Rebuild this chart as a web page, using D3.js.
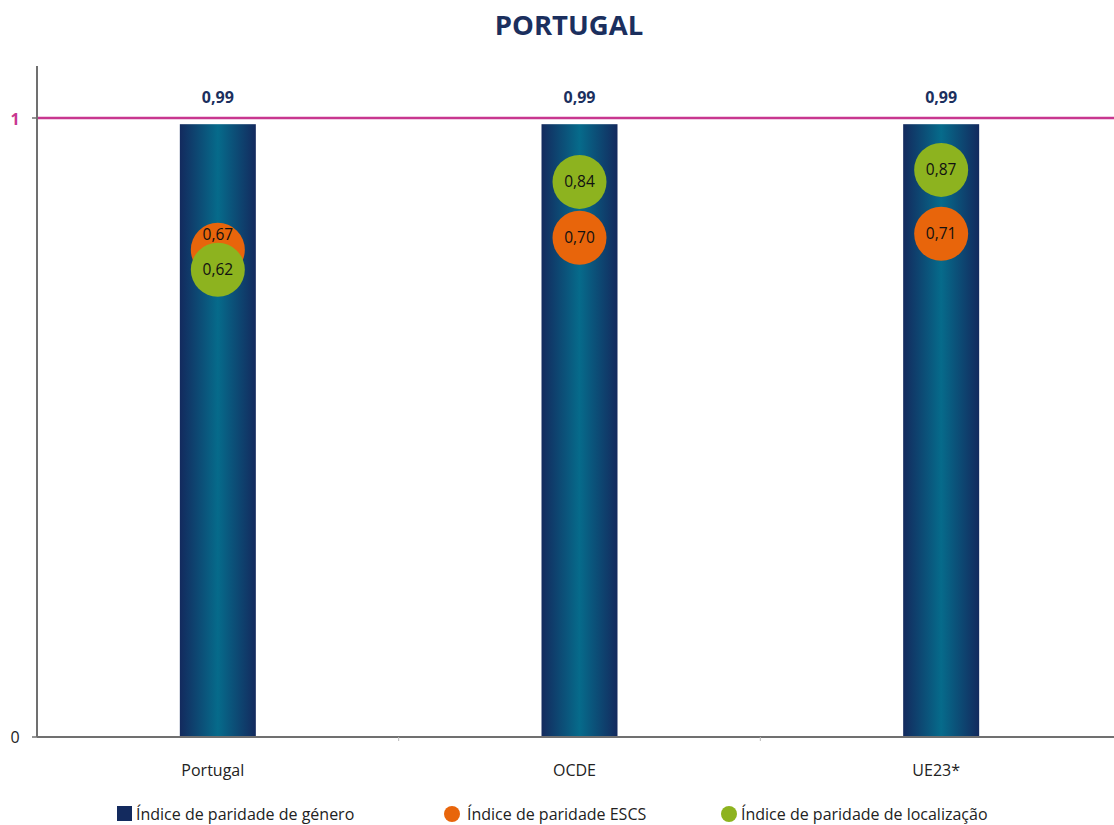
<!DOCTYPE html>
<html><head><meta charset="utf-8">
<script src="https://cdn.jsdelivr.net/npm/d3@7"></script>
<style>body{margin:0;background:#fff}svg{display:block}text{font-family:"Open Sans",Lato,sans-serif}</style>
</head><body><svg id="c" width="1114" height="825"></svg>
<script>
const title = "PORTUGAL";
const categories = ["Portugal", "OCDE", "UE23*"];
const genero = [0.99, 0.99, 0.99];
const escs = [0.67, 0.70, 0.71];
const localizacao = [0.62, 0.84, 0.87];
const refLine = 1;
const yTicks = [0, 1];
const legendLabels = ["Índice de paridade de género", "Índice de paridade ESCS", "Índice de paridade de localização"];

const svg = d3.select("#c");
const fmt = v => d3.format(".2f")(v).replace(".", ",");

const x = d3.scaleBand().domain(categories).range([37, 1122]);
const y = d3.scaleLinear().domain([0, 1]).range([737, 118]);
const y2 = d3.scaleLinear().domain([-0.55, 1]).range([737, 118]);
const barW = 76;

const defs = svg.append("defs");
const g = defs.append("linearGradient").attr("id", "bg").attr("x1", "0").attr("x2", "1").attr("y1", "0").attr("y2", "0");
g.append("stop").attr("offset", "0%").attr("stop-color", "#132a5e");
g.append("stop").attr("offset", "50%").attr("stop-color", "#066b8b");
g.append("stop").attr("offset", "100%").attr("stop-color", "#132a5e");

svg.append("text").attr("x", 569).attr("y", 35).attr("text-anchor", "middle")
  .attr("font-size", 27.5).attr("font-weight", "bold").attr("fill", "#1b2f5e").text(title);

// bars
const cx = c => x(c) + x.bandwidth() / 2;
svg.selectAll(".bar").data(categories).join("rect")
  .attr("x", c => cx(c) - barW / 2).attr("width", barW)
  .attr("y", (c, i) => y(genero[i])).attr("height", (c, i) => y(0) - y(genero[i]))
  .attr("fill", "url(#bg)");

svg.selectAll(".blab").data(categories).join("text")
  .attr("x", cx).attr("y", (c, i) => y(genero[i]) - 21).attr("text-anchor", "middle")
  .attr("font-size", 16).attr("font-weight", "bold").attr("fill", "#1b2f5e")
  .text((c, i) => fmt(genero[i]));

// axes
svg.append("line").attr("x1", 37).attr("x2", 37).attr("y1", 66).attr("y2", 737).attr("stroke", "#707070").attr("stroke-width", 2);
svg.append("line").attr("x1", 37).attr("x2", 1114).attr("y1", 737).attr("y2", 737).attr("stroke", "#707070").attr("stroke-width", 2);
yTicks.forEach(t => {
  svg.append("line").attr("x1", 32).attr("x2", 37).attr("y1", y(t)).attr("y2", y(t)).attr("stroke", "#707070").attr("stroke-width", 1.5);
});
categories.slice(1).forEach(c => {
  svg.append("line").attr("x1", x(c)).attr("x2", x(c)).attr("y1", 737).attr("y2", 741).attr("stroke", "#bbb").attr("stroke-width", 1);
});
svg.append("text").attr("x", 15).attr("y", y(0) + 6).attr("text-anchor", "middle").attr("font-size", 16).attr("fill", "#222").text("0");
svg.append("text").attr("x", 15).attr("y", y(refLine) + 7).attr("text-anchor", "middle").attr("font-size", 16).attr("font-weight", "bold").attr("fill", "#c8378f").text("1");

// ref line
svg.append("line").attr("x1", 38).attr("x2", 1114).attr("y1", y(refLine)).attr("y2", y(refLine)).attr("stroke", "#c8378f").attr("stroke-width", 2.5);

// x labels
svg.selectAll(".xl").data(categories).join("text")
  .attr("x", c => cx(c) - 5).attr("y", 776).attr("text-anchor", "middle").attr("font-size", 16).attr("fill", "#222").text(c => c);

// circles
const R = 27;
const series = [[escs, "#e8650b"], [localizacao, "#8db31f"]];
series.forEach(([arr, col]) => {
  categories.forEach((c, i) => {
    svg.append("circle").attr("cx", cx(c)).attr("cy", y2(arr[i])).attr("r", R).attr("fill", col);
  });
});
// labels (nudge the upper label when the two circles overlap)
categories.forEach((c, i) => {
  const ya = y2(escs[i]), yb = y2(localizacao[i]);
  const overlap = Math.abs(ya - yb) < 2 * R;
  [[escs[i], ya, yb], [localizacao[i], yb, ya]].forEach(([v, yy, other]) => {
    const shift = overlap && yy < other ? -15 : 0;
    svg.append("text").attr("x", cx(c)).attr("y", yy + shift + 5.5).attr("text-anchor", "middle")
      .attr("font-size", 15.5).attr("fill", "#111").text(fmt(v));
  });
});

// legend
const lg = svg.append("g").attr("font-size", 16).attr("fill", "#222");
lg.append("rect").attr("x", 117).attr("y", 806).attr("width", 15).attr("height", 15).attr("fill", "#132a5e");
lg.append("text").attr("x", 136).attr("y", 820).text(legendLabels[0]);
lg.append("circle").attr("cx", 452).attr("cy", 814).attr("r", 8).attr("fill", "#e8650b");
lg.append("text").attr("x", 467).attr("y", 820).text(legendLabels[1]);
lg.append("circle").attr("cx", 729).attr("cy", 814).attr("r", 8).attr("fill", "#8db31f");
lg.append("text").attr("x", 741).attr("y", 820).text(legendLabels[2]);
</script></body></html>
